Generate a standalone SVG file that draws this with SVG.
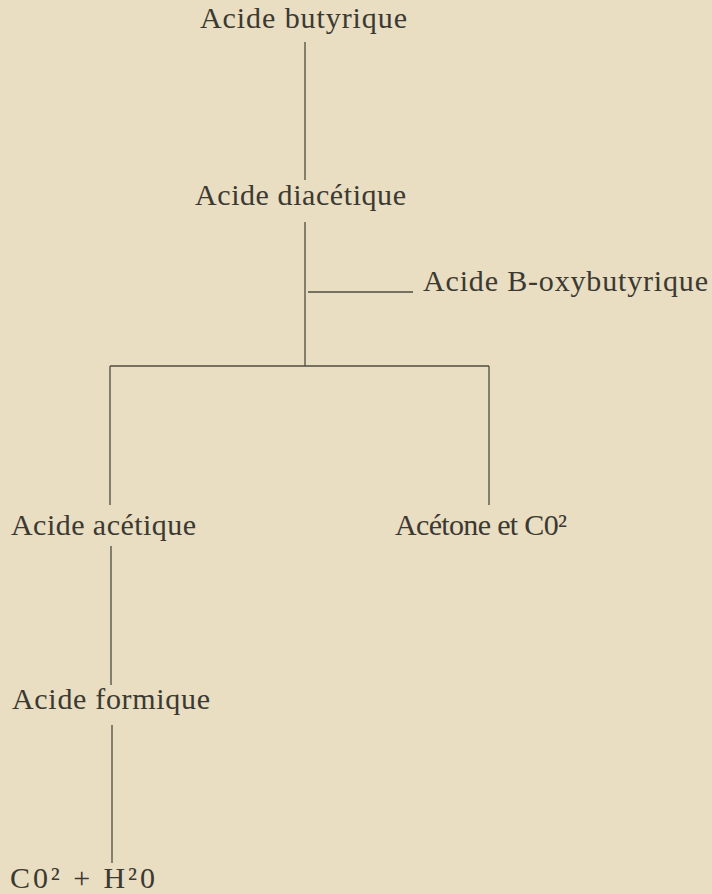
<svg xmlns="http://www.w3.org/2000/svg" width="712" height="894" viewBox="0 0 712 894">
  <style>
    .bg { fill: #e9ddc2; }
    .label { font-family: "Liberation Serif", "DejaVu Serif", serif; font-size: 30px; fill: #3b3a32; }
    .link { stroke: #4d4c40; stroke-width: 1.3; fill: none; stroke-linecap: butt; }
  </style>
  <rect class="bg" x="0" y="0" width="712" height="894"/>

  <!-- connectors of the breakdown scheme -->
  <g id="connectors">
    <line class="link" x1="305" y1="42" x2="305" y2="180"/>
    <line class="link" x1="305" y1="222" x2="305" y2="366"/>
    <line class="link" x1="308" y1="292" x2="413" y2="292"/>
    <line class="link" x1="110" y1="366" x2="489" y2="366"/>
    <line class="link" x1="110" y1="366" x2="110" y2="505"/>
    <line class="link" x1="489" y1="366" x2="489" y2="505"/>
    <line class="link" x1="111" y1="546" x2="111" y2="685"/>
    <line class="link" x1="112" y1="725" x2="112" y2="863"/>
  </g>

  <g id="acide-butyrique">
    <text class="label" x="200" y="28" textLength="207" lengthAdjust="spacing">Acide butyrique</text>
  </g>
  <g id="acide-diacetique">
    <text class="label" x="195" y="205" textLength="211" lengthAdjust="spacing">Acide diacétique</text>
  </g>
  <g id="acide-b-oxybutyrique">
    <text class="label" x="423" y="291" textLength="285" lengthAdjust="spacing">Acide B-oxybutyrique</text>
  </g>
  <g id="acide-acetique">
    <text class="label" x="11" y="535" textLength="185" lengthAdjust="spacing">Acide acétique</text>
  </g>
  <g id="acetone-co2">
    <text class="label" x="395" y="535" textLength="172" lengthAdjust="spacing">Acétone et C0²</text>
  </g>
  <g id="acide-formique">
    <text class="label" x="12" y="709" textLength="198" lengthAdjust="spacing">Acide formique</text>
  </g>
  <g id="co2-h2o">
    <text class="label" x="10" y="888" textLength="145" lengthAdjust="spacing">C0² + H²0</text>
  </g>
</svg>
